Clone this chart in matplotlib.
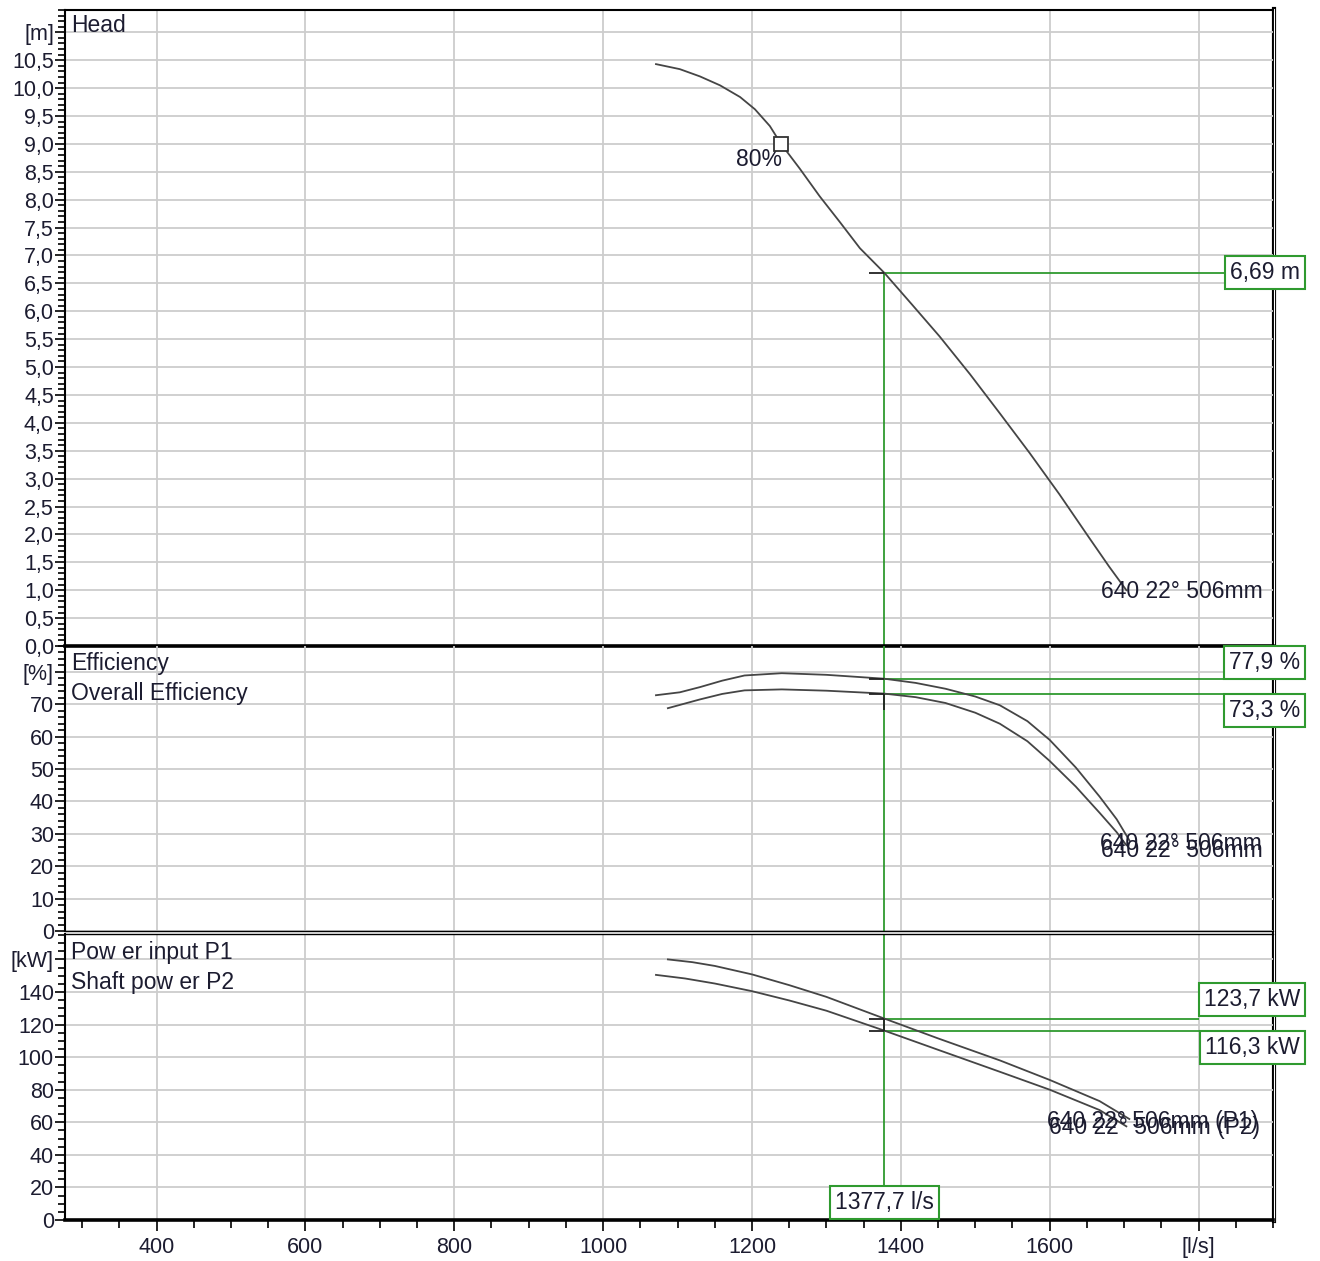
import numpy as np
import matplotlib.pyplot as plt
from matplotlib.lines import Line2D
from matplotlib.ticker import FixedLocator, MultipleLocator, FuncFormatter

plt.rcParams['font.family'] = ['Liberation Sans', 'DejaVu Sans']

# pump curve 640 22° 506mm
head_flow = [1071, 1103, 1130, 1157, 1184, 1204, 1224, 1239, 1264, 1291, 1318, 1345,
             1377.7, 1415, 1452, 1493, 1533, 1573, 1613, 1653, 1680, 1703]
head_m = [10.43, 10.34, 10.21, 10.05, 9.84, 9.62, 9.32, 9.0, 8.56, 8.06, 7.6, 7.13,
          6.69, 6.12, 5.55, 4.87, 4.17, 3.46, 2.72, 1.94, 1.42, 1.0]

eff_flow = [1071, 1103, 1130, 1160, 1190, 1240, 1300, 1377.7, 1420, 1460, 1500,
            1533, 1570, 1600, 1635, 1667, 1690, 1707]
eff = [72.8, 73.7, 75.3, 77.3, 78.9, 79.6, 79.1, 77.9, 76.6, 74.8, 72.4,
       69.7, 64.8, 59.0, 50.5, 41.5, 34.5, 28.0]

ovr_flow = [1087, 1130, 1160, 1190, 1240, 1300, 1377.7, 1420, 1460, 1500, 1533,
            1570, 1600, 1635, 1667, 1690, 1703]
ovr_eff = [68.8, 71.5, 73.2, 74.3, 74.6, 74.2, 73.3, 72.2, 70.4, 67.4, 64.0,
           58.6, 52.5, 44.6, 36.5, 30.5, 26.5]

p1_flow = [1087, 1120, 1150, 1200, 1250, 1300, 1377.7, 1450, 1533, 1600, 1667, 1707]
p1_kw = [160, 158.3, 156.0, 150.8, 144.2, 137.0, 123.7, 111.5, 98.0, 86.0, 73.0, 62.0]

p2_flow = [1071, 1110, 1150, 1200, 1250, 1300, 1377.7, 1450, 1533, 1600, 1667, 1703]
p2_kw = [150.5, 148.3, 145.2, 140.5, 134.8, 128.5, 116.3, 104.5, 91.0, 80.0, 67.5, 57.5]

curve_name = '640 22° 506mm'
bep_flow, bep_head, bep_label = 1239, 9.0, '80%'

# duty point
q_duty = 1377.7
h_duty = 6.69
eff_duty = 77.9
ovr_duty = 73.3
p1_duty = 123.7
p2_duty = 116.3

W, H = 1320, 1261
TXT = '#1c1c30'
CURVE = '#454545'
GREEN = '#2f9a2f'
GRID = '#cdcdcd'
FS = 16.5
PAD = 0.22


def axes_rect(top, bottom, left=65, right=1273):
    return [left / W, 1 - bottom / H, (right - left) / W, (bottom - top) / H]


def comma(v, dec):
    return f'{v:.{dec}f}'.replace('.', ',')


def setup_y(ax, majors, minor, unit, dec):
    ax.yaxis.set_major_locator(FixedLocator(majors))
    ax.yaxis.set_minor_locator(MultipleLocator(minor))
    top = majors[-1]
    ax.yaxis.set_major_formatter(FuncFormatter(
        lambda v, pos: unit if abs(v - top) < 1e-6 else comma(v, dec)))
    ax.tick_params(axis='y', which='major', length=7, width=1.2, pad=1,
                   labelsize=15.5, labelcolor=TXT, direction='out')
    ax.tick_params(axis='y', which='minor', length=5, width=1.2, direction='out')
    ax.grid(True, which='major', color=GRID, lw=1.3, zorder=0)
    ax.set_axisbelow(True)
    ax.spines['right'].set_visible(False)
    ax.spines['left'].set_linewidth(1.5)
    ax.patch.set_visible(False)


def value_box(ax, val, text, va, extra=0):
    pad_pt = PAD * FS
    dy = {'bottom': pad_pt + extra, 'top': -pad_pt - extra, 'center': 0}[va]
    return ax.annotate(text, xy=(1.0265, val), xycoords=('axes fraction', 'data'),
                       xytext=(-pad_pt, dy), textcoords='offset points',
                       ha='right', va=va, fontsize=FS, color=TXT,
                       annotation_clip=False, zorder=6,
                       bbox=dict(boxstyle=f'square,pad={PAD}', fc='white',
                                 ec=GREEN, lw=1.5))


fig = plt.figure(figsize=(W / 100, H / 100), dpi=100)
fig.patch.set_facecolor('white')

# double right border, kept underneath the value boxes
for lw, col in [(3.0, 'black'), (0.8, 'white')]:
    fig.add_artist(Line2D([1274 / W, 1274 / W], [1 - 9 / H, 1 - 1221 / H],
                          transform=fig.transFigure, color=col, lw=lw, zorder=-1))

ax_h = fig.add_axes(axes_rect(10, 646))
ax_e = fig.add_axes(axes_rect(646, 931), sharex=ax_h)
ax_p = fig.add_axes(axes_rect(934, 1220), sharex=ax_h)

ax_h.set_xlim(277, 1900)
ax_h.set_ylim(0, 11.4)
ax_e.set_ylim(0, 88)
ax_p.set_ylim(0, 175.6)

setup_y(ax_h, list(np.arange(0, 11.01, 0.5)), 0.1, '[m]', 1)
setup_y(ax_e, list(range(0, 81, 10)), 2, '[%]', 0)
setup_y(ax_p, list(range(0, 161, 20)), 5, '[kW]', 0)

ax_p.xaxis.set_major_locator(FixedLocator(list(range(400, 1801, 200))))
ax_p.xaxis.set_minor_locator(MultipleLocator(50))
ax_p.xaxis.set_major_formatter(FuncFormatter(
    lambda v, pos: '[l/s]' if v == 1800 else f'{v:.0f}'))
ax_p.tick_params(axis='x', which='major', length=8, width=1.2, pad=4,
                 labelsize=15.5, labelcolor=TXT)
ax_p.tick_params(axis='x', which='minor', length=6, width=1.2)
for ax in (ax_h, ax_e):
    ax.tick_params(axis='x', which='both', bottom=False, labelbottom=False)

ax_h.spines['top'].set_linewidth(1.5)
ax_h.spines['bottom'].set_linewidth(2.6)
ax_e.spines['top'].set_visible(False)
ax_e.spines['bottom'].set_linewidth(1.0)
ax_p.spines['top'].set_linewidth(1.0)
ax_p.spines['bottom'].set_linewidth(2.6)

# panel captions
ax_h.text(0.005, 0.975, 'Head', transform=ax_h.transAxes, va='center',
          fontsize=FS, color=TXT)
ax_e.text(0.005, 0.937, 'Efficiency', transform=ax_e.transAxes, va='center',
          fontsize=FS, color=TXT)
ax_e.text(0.005, 0.832, 'Overall Efficiency', transform=ax_e.transAxes,
          va='center', fontsize=FS, color=TXT)
ax_p.text(0.005, 0.937, 'Pow er input P1', transform=ax_p.transAxes,
          va='center', fontsize=FS, color=TXT)
ax_p.text(0.005, 0.832, 'Shaft pow er P2', transform=ax_p.transAxes,
          va='center', fontsize=FS, color=TXT)

# curves
ax_h.plot(head_flow, head_m, color=CURVE, lw=1.3, zorder=3)
ax_e.plot(eff_flow, eff, color=CURVE, lw=1.3, zorder=3)
ax_e.plot(ovr_flow, ovr_eff, color=CURVE, lw=1.3, zorder=3)
ax_p.plot(p1_flow, p1_kw, color=CURVE, lw=1.3, zorder=3)
ax_p.plot(p2_flow, p2_kw, color=CURVE, lw=1.3, zorder=3)

ax_h.plot(bep_flow, bep_head, marker='s', ms=10, mfc='white', mec='#333333',
          mew=1.3, zorder=4)
ax_h.annotate(bep_label, xy=(bep_flow, bep_head), xytext=(1, -3),
              textcoords='offset points', ha='right', va='top',
              fontsize=FS, color=TXT)


# curve end labels
def end_label(ax, x, y, text, dx, dy):
    ax.annotate(text, xy=(x, y), xytext=(dx, dy), textcoords='offset points',
                ha='left', va='center', fontsize=FS, color=TXT, zorder=4)


end_label(ax_h, head_flow[-1], head_m[-1], curve_name, -18, -1)
end_label(ax_e, eff_flow[-1], eff[-1], curve_name, -21, -2)
end_label(ax_e, ovr_flow[-1], ovr_eff[-1], curve_name, -18, -4)
end_label(ax_p, p1_flow[-1], p1_kw[-1], curve_name + ' (P1)', -59, -2)
end_label(ax_p, p2_flow[-1], p2_kw[-1], curve_name + ' (P2)', -56, -1)

# duty point cross lines
ax_h.vlines(q_duty, 0, h_duty, color=GREEN, lw=1.3, zorder=2)
ax_e.axvline(q_duty, color=GREEN, lw=1.3, zorder=2)
ax_p.axvline(q_duty, color=GREEN, lw=1.3, zorder=2)

boxes = [
    (ax_h, h_duty, value_box(ax_h, h_duty, comma(h_duty, 2) + ' m', 'center')),
    (ax_e, eff_duty, value_box(ax_e, eff_duty, comma(eff_duty, 1) + ' %', 'bottom')),
    (ax_e, ovr_duty, value_box(ax_e, ovr_duty, comma(ovr_duty, 1) + ' %', 'top')),
    (ax_p, p1_duty, value_box(ax_p, p1_duty, comma(p1_duty, 1) + ' kW', 'bottom', 2)),
    (ax_p, p2_duty, value_box(ax_p, p2_duty, comma(p2_duty, 1) + ' kW', 'top')),
]
pad_pt = PAD * FS
ax_p.annotate(comma(q_duty, 1) + ' l/s', xy=(q_duty, 0),
              xycoords=('data', 'axes fraction'), xytext=(0, pad_pt + 1),
              textcoords='offset points', ha='center', va='bottom',
              fontsize=FS, color=TXT, zorder=6,
              bbox=dict(boxstyle=f'square,pad={PAD}', fc='white', ec=GREEN, lw=1.5))

# short black marks at the duty point
for ax, val in [(ax_h, h_duty), (ax_e, eff_duty), (ax_e, ovr_duty),
                (ax_p, p1_duty), (ax_p, p2_duty)]:
    ax.hlines(val, q_duty - 20, q_duty, color='#222222', lw=1.3, zorder=4)
ax_e.vlines(q_duty, ovr_duty - 5, ovr_duty, color='#222222', lw=1.3, zorder=4)
ax_p.vlines(q_duty, p2_duty, p1_duty, color='#222222', lw=1.3, zorder=4)

fig.canvas.draw()
for ax, val, ann in boxes:
    x0 = ann.get_bbox_patch().get_window_extent().x0
    xd = ax.transData.inverted().transform((x0, 0))[0]
    ax.hlines(val, q_duty, xd, color=GREEN, lw=1.3, zorder=2, clip_on=False)

fig.savefig('out.png', dpi=100, facecolor='white')
